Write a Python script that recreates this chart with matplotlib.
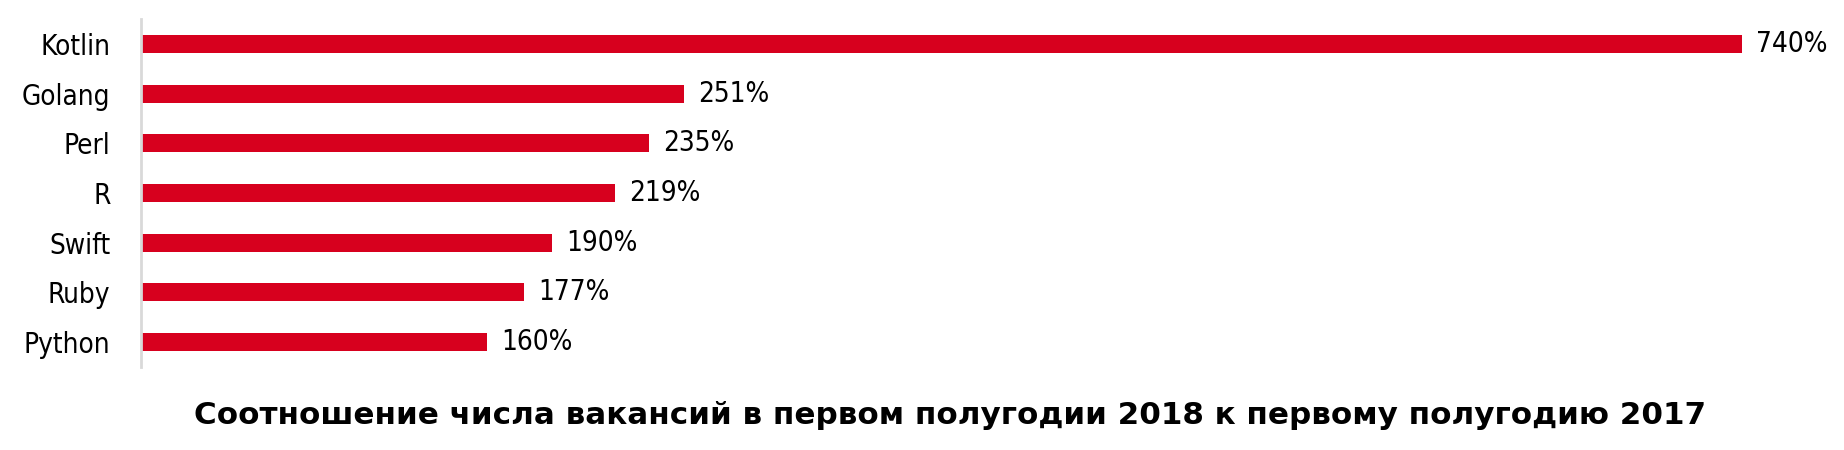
import matplotlib.pyplot as plt
from matplotlib import font_manager

languages = ["Kotlin", "Golang", "Perl", "R", "Swift", "Ruby", "Python"]
ratios = [740, 251, 235, 219, 190, 177, 160]
title = "Соотношение числа вакансий в первом полугодии 2018 к первому полугодию 2017"

cond = [f for f in font_manager.fontManager.ttflist
        if f.name == "DejaVu Sans" and f.stretch == "condensed"]
if cond:
    lab = dict(family="DejaVu Sans", fontstretch="condensed", fontsize=20)
else:
    lab = dict(family="Liberation Sans Narrow", fontsize=22)

fig = plt.figure(figsize=(18.44, 4.5), dpi=100)
ax = fig.add_axes([141 / 1844, 83 / 450, (1742 - 141) / 1844, (367 - 19) / 450])

y = list(range(len(languages)))
ax.barh(y, ratios, height=0.36, color="#d7001e")
ax.set_xlim(0, 740)
ax.set_ylim(len(languages) - 0.5, -0.5)

ax.set_yticks(y)
ax.set_yticklabels(languages, **lab)
ax.tick_params(axis="y", length=0, pad=22)
ax.set_xticks([])
for s in ["top", "right", "bottom"]:
    ax.spines[s].set_visible(False)
ax.spines["left"].set_color("#d9d9d9")
ax.spines["left"].set_linewidth(2)

for yi, v in zip(y, ratios):
    ax.annotate(f"{v}%", (v, yi), xytext=(10, 0), textcoords="offset points",
                va="center", ha="left", clip_on=False, **lab)

fig.text(950 / 1844, 34 / 450, title, ha="center", va="center",
         fontsize=22.3, fontweight="bold", family="DejaVu Sans")

fig.savefig("out.png", dpi=100)
